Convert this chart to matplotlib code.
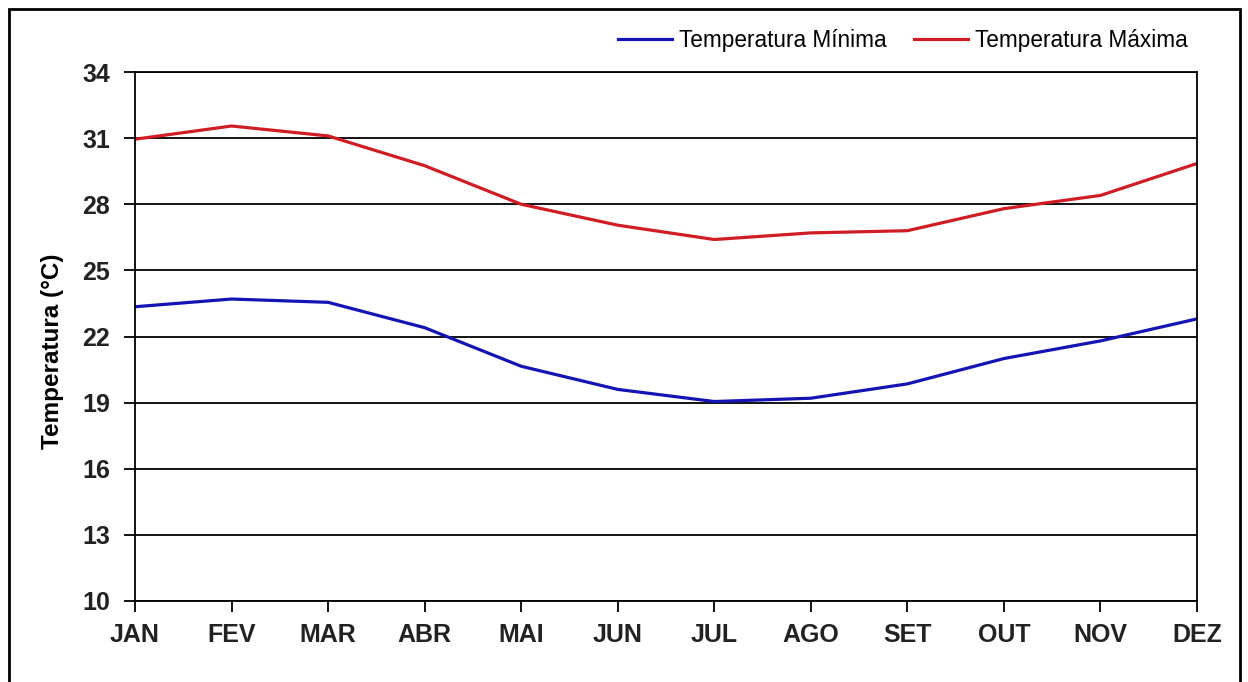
import matplotlib
matplotlib.use("Agg")
import matplotlib.pyplot as plt
from matplotlib.patches import Rectangle

months = ["JAN", "FEV", "MAR", "ABR", "MAI", "JUN", "JUL", "AGO", "SET", "OUT", "NOV", "DEZ"]
temp_min = [23.35, 23.7, 23.55, 22.4, 20.65, 19.6, 19.05, 19.2, 19.85, 21.0, 21.8, 22.8]
temp_max = [30.95, 31.55, 31.1, 29.75, 28.0, 27.05, 26.4, 26.7, 26.8, 27.8, 28.4, 29.85]
yticks = [10, 13, 16, 19, 22, 25, 28, 31, 34]

plt.rcParams['font.family'] = ['Liberation Sans', 'DejaVu Sans']

W, H = 1248, 682
fig = plt.figure(figsize=(W / 100, H / 100), dpi=100)
ax = fig.add_axes([135 / W, 1 - 601 / H, (1197 - 135) / W, (601 - 72) / H])

x = list(range(len(months)))
ax.plot(x, temp_min, color="#1414b4", lw=2.3, label="Temperatura Mínima", solid_joinstyle="round")
ax.plot(x, temp_max, color="#d01c24", lw=2.3, label="Temperatura Máxima", solid_joinstyle="round")

ax.set_xlim(0, len(months) - 1)
ax.set_ylim(10, 34)
ax.set_yticks(yticks)
ax.set_xticks(x)
ax.set_xticklabels(months)
ax.yaxis.grid(True, color="black", lw=1.3)
ax.set_axisbelow(True)
for s in ax.spines.values():
    s.set_color("black")
    s.set_linewidth(1.3)
ax.tick_params(axis="both", direction="out", length=8, width=1.3, colors="black",
               labelsize=18)
ax.tick_params(axis="y", pad=10)
ax.tick_params(axis="x", pad=8)
for lbl in ax.get_xticklabels() + ax.get_yticklabels():
    lbl.set_fontweight("bold")
    lbl.set_color("#222222")

ax.set_ylabel("Temperatura (°C)", fontsize=17.5, fontweight="bold")
ax.yaxis.set_label_coords(-0.067, 0.473)

leg = ax.legend(loc="lower right", bbox_to_anchor=(1.0, 1.02), ncol=2, frameon=False,
                fontsize=16.3, handlelength=2.4, handletextpad=0.3, columnspacing=1.2,
                borderaxespad=0.0)

fig.patches.append(Rectangle((9 / W, -0.05), (1240 - 9) / W, 1.05 - 9 / H,
                             transform=fig.transFigure, fill=False,
                             edgecolor="black", lw=2.0))

fig.savefig("out.png", dpi=100)
